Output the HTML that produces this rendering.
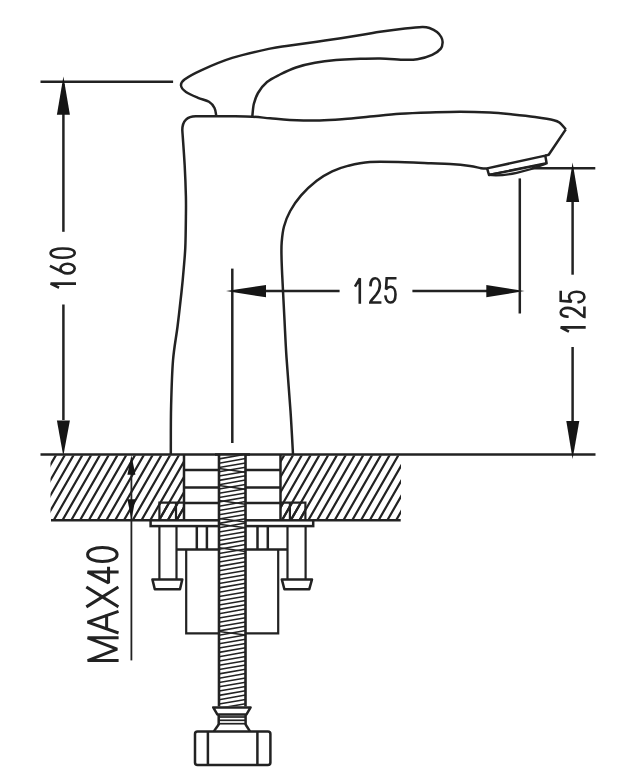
<!DOCTYPE html>
<html><head><meta charset="utf-8"><style>
html,body{margin:0;padding:0;background:#fff;width:643px;height:784px;overflow:hidden}
svg{display:block}
</style></head><body>
<svg width="643" height="784" viewBox="0 0 643 784"><path d="M216.2 115.5 C215.9 114.2 215.7 110.3 214.5 108.0 C213.3 105.7 211.8 103.5 209.0 101.8 C206.2 100.1 201.8 99.4 198.0 97.8 C194.2 96.2 188.8 94.0 186.0 92.0 C183.2 90.0 181.2 87.6 181.0 85.5 C180.8 83.4 181.2 82.0 184.5 79.5 C187.8 77.0 193.2 73.9 201.1 70.3 C209.0 66.7 220.7 61.5 232.2 57.9 C243.7 54.3 260.4 50.7 270.0 48.6 C279.6 46.5 280.8 46.9 290.0 45.5 C299.2 44.1 312.7 42.3 325.0 40.5 C337.3 38.7 354.8 36.1 364.0 34.6 C373.2 33.1 373.2 32.8 380.0 31.8 C386.8 30.8 397.9 29.3 405.0 28.5 C412.1 27.7 418.1 27.1 422.3 27.0 C426.5 26.9 427.6 27.4 430.0 28.2 C432.4 29.0 435.1 30.5 437.0 32.0 C438.9 33.5 440.3 35.3 441.2 37.0 C442.1 38.7 442.7 40.5 442.6 42.4 C442.5 44.3 442.5 46.5 440.8 48.6 C439.1 50.7 436.1 53.0 432.2 54.8 C428.3 56.6 421.9 58.4 417.3 59.2 C412.8 60.0 411.1 59.9 404.9 59.8 C398.7 59.7 388.3 58.6 380.0 58.5 C371.7 58.4 362.3 58.8 355.0 59.0 C347.7 59.2 342.7 59.4 336.0 60.0 C329.3 60.6 321.7 61.5 315.0 62.8 C308.3 64.0 301.8 65.5 296.0 67.5 C290.2 69.5 284.8 72.1 280.0 74.5 C275.2 76.9 270.7 78.9 267.0 82.0 C263.3 85.1 260.2 89.3 258.0 93.0 C255.8 96.7 254.8 100.1 253.8 104.0 C252.9 107.9 252.6 114.4 252.3 116.5" fill="none" stroke="#222" stroke-width="2.50" stroke-linejoin="round" stroke-linecap="butt"/>
<path d="M565.8 129.4 C564.8 128.3 562.0 124.5 560.0 123.0 C558.0 121.5 558.0 121.2 553.8 120.2 C549.6 119.2 541.8 118.0 535.0 117.0 C528.2 116.0 520.3 115.2 512.8 114.5 C505.3 113.8 498.8 113.1 490.0 112.6 C481.2 112.1 470.0 111.7 460.0 111.7 C450.0 111.7 440.0 112.1 430.0 112.4 C420.0 112.7 410.0 113.0 400.0 113.7 C390.0 114.4 379.2 115.7 370.0 116.6 C360.8 117.5 352.9 118.5 344.5 119.1 C336.1 119.7 328.7 120.3 319.6 120.4 C310.5 120.5 298.1 120.2 289.8 119.9 C281.5 119.6 276.2 118.8 270.0 118.3 C263.8 117.8 259.1 117.0 252.4 116.7 C245.7 116.4 239.4 116.4 230.0 116.3 C220.6 116.2 201.7 116.3 196.0 116.3 C187.5 116.2 182.3 120.5 182.3 130 C182.7 136.0 184.1 154.7 184.7 165.8 C185.3 176.9 185.7 187.9 185.9 196.4 C186.1 204.9 186.0 208.3 185.9 216.8 C185.8 225.3 185.7 238.5 185.3 247.4 C184.9 256.3 184.2 262.6 183.6 270.0 C183.0 277.4 182.5 282.7 181.5 292.0 C180.5 301.3 179.0 314.6 177.6 326.0 C176.2 337.4 174.1 347.1 173.0 360.5 C171.9 373.9 171.5 390.7 171.1 406.4 C170.7 422.1 170.9 446.5 170.8 454.5" fill="none" stroke="#222" stroke-width="2.50" stroke-linejoin="round" stroke-linecap="butt"/>
<path d="M565.8 129.4 L548.7 154.7 L545.3 155.6" fill="none" stroke="#222" stroke-width="2.50" stroke-linejoin="round" stroke-linecap="butt"/>
<path d="M487.5 168.6 C486.4 168.5 484.0 168.6 481.1 168.2 C478.2 167.8 475.2 166.6 470.0 165.9 C464.8 165.2 456.5 164.4 450.0 164.0 C443.5 163.6 438.5 163.5 431.0 163.2 C423.5 162.9 415.2 162.4 405.0 162.2 C394.8 162.0 379.5 161.4 370.0 162.0 C360.5 162.6 354.1 164.3 347.8 165.9 C341.5 167.5 337.4 168.8 332.2 171.3 C327.0 173.8 321.9 176.7 316.7 180.7 C311.5 184.7 305.5 190.3 301.1 195.4 C296.7 200.5 293.1 205.8 290.2 211.0 C287.3 216.2 285.4 221.3 284.0 226.5 C282.6 231.7 282.1 237.2 281.7 242.1 C281.3 247.0 281.4 250.5 281.5 256.0 C281.6 261.5 281.7 264.3 282.2 275.0 C282.7 285.7 283.8 306.3 284.5 320.0 C285.2 333.7 285.5 342.2 286.5 357.4 C287.5 372.6 289.4 394.8 290.5 411.0 C291.6 427.2 292.6 447.2 293.0 454.5" fill="none" stroke="#222" stroke-width="2.50" stroke-linejoin="round" stroke-linecap="butt"/>
<path d="M487.1 168.4 L545.3 155.6 L546.6 163.3 L489.0 175.0 L487.1 168.4" fill="none" stroke="#222" stroke-width="2.50" stroke-linejoin="round" stroke-linecap="butt"/>
<path d="M488.7 174.9 C505 177 528 171 545.9 163.7" fill="none" stroke="#222" stroke-width="2.30" stroke-linejoin="round" stroke-linecap="butt"/>
<line x1="488.7" y1="174.6" x2="545.9" y2="163.5" stroke="#222" stroke-width="1.50"/>
<line x1="40.5" y1="81.7" x2="173.1" y2="81.7" stroke="#222" stroke-width="2.50"/>
<line x1="63.4" y1="84.0" x2="63.4" y2="231.8" stroke="#222" stroke-width="2.50"/>
<line x1="63.4" y1="304.5" x2="63.4" y2="420.0" stroke="#222" stroke-width="2.50"/>
<path d="M63.4 76.5 L56.9 114.7 L69.9 114.7 Z" fill="#151515" stroke="none"/>
<path d="M63.3 456.0 L56.9 420.4 L69.9 420.4 Z" fill="#151515" stroke="none"/>
<line x1="40.5" y1="454.5" x2="595.5" y2="454.5" stroke="#222" stroke-width="2.50"/>
<line x1="232.3" y1="268.6" x2="232.3" y2="443.0" stroke="#222" stroke-width="2.50"/>
<line x1="262.0" y1="291.1" x2="339.6" y2="291.1" stroke="#222" stroke-width="2.50"/>
<line x1="412.4" y1="291.1" x2="490.0" y2="291.1" stroke="#222" stroke-width="2.50"/>
<path d="M226.0 291.1 L266.0 284.9 L266.0 297.3 Z" fill="#151515" stroke="none"/>
<path d="M524.5 291.1 L486.3 284.9 L486.3 297.3 Z" fill="#151515" stroke="none"/>
<line x1="519.8" y1="178.4" x2="519.8" y2="313.5" stroke="#222" stroke-width="2.50"/>
<line x1="531.6" y1="168.3" x2="595.3" y2="168.3" stroke="#222" stroke-width="2.50"/>
<line x1="572.6" y1="200.0" x2="572.6" y2="274.7" stroke="#222" stroke-width="2.50"/>
<line x1="572.6" y1="347.0" x2="572.6" y2="423.0" stroke="#222" stroke-width="2.50"/>
<path d="M572.6 162.5 L566.2 202.0 L579.2 202.0 Z" fill="#151515" stroke="none"/>
<path d="M572.6 459.0 L566.3 421.0 L579.3 421.0 Z" fill="#151515" stroke="none"/>
<clipPath id="hl"><path d="M50.5 455.5 H184 V520 H50.5 Z"/></clipPath>
<clipPath id="hr"><path d="M280.5 455.5 H401 V520 H280.5 Z"/></clipPath>
<path d="M-70.23 522.00 L-28.85 450.00 M-61.45 522.00 L-20.07 450.00 M-52.67 522.00 L-11.29 450.00 M-43.89 522.00 L-2.51 450.00 M-35.11 522.00 L6.27 450.00 M-26.33 522.00 L15.05 450.00 M-17.55 522.00 L23.83 450.00 M-8.77 522.00 L32.61 450.00 M0.01 522.00 L41.39 450.00 M8.79 522.00 L50.17 450.00 M17.57 522.00 L58.95 450.00 M26.35 522.00 L67.73 450.00 M35.13 522.00 L76.51 450.00 M43.91 522.00 L85.29 450.00 M52.69 522.00 L94.07 450.00 M61.47 522.00 L102.85 450.00 M70.25 522.00 L111.63 450.00 M79.03 522.00 L120.41 450.00 M87.81 522.00 L129.19 450.00 M96.59 522.00 L137.97 450.00 M105.37 522.00 L146.75 450.00 M114.15 522.00 L155.53 450.00 M122.93 522.00 L164.31 450.00 M131.71 522.00 L173.09 450.00 M140.49 522.00 L181.87 450.00 M149.27 522.00 L190.65 450.00 M158.05 522.00 L199.43 450.00 M166.83 522.00 L208.21 450.00 M175.61 522.00 L216.99 450.00 M184.39 522.00 L225.77 450.00 M193.17 522.00 L234.55 450.00 M201.95 522.00 L243.33 450.00 M210.73 522.00 L252.11 450.00 M219.51 522.00 L260.89 450.00 M228.29 522.00 L269.67 450.00 M237.07 522.00 L278.45 450.00 M245.85 522.00 L287.23 450.00 M254.63 522.00 L296.01 450.00 M263.41 522.00 L304.79 450.00 M272.19 522.00 L313.57 450.00 M280.97 522.00 L322.35 450.00 M289.75 522.00 L331.13 450.00 M298.53 522.00 L339.91 450.00 M307.31 522.00 L348.69 450.00 M316.09 522.00 L357.47 450.00 M324.87 522.00 L366.25 450.00 M333.65 522.00 L375.03 450.00 M342.43 522.00 L383.81 450.00 M351.21 522.00 L392.59 450.00 M359.99 522.00 L401.37 450.00 M368.77 522.00 L410.15 450.00 M377.55 522.00 L418.93 450.00 M386.33 522.00 L427.71 450.00 M395.11 522.00 L436.49 450.00 M403.89 522.00 L445.27 450.00 M412.67 522.00 L454.05 450.00 M421.45 522.00 L462.83 450.00 M430.23 522.00 L471.61 450.00 M439.01 522.00 L480.39 450.00 M447.79 522.00 L489.17 450.00" stroke="#222" stroke-width="2.2" clip-path="url(#hl)"/>
<path d="M-70.23 522.00 L-28.85 450.00 M-61.45 522.00 L-20.07 450.00 M-52.67 522.00 L-11.29 450.00 M-43.89 522.00 L-2.51 450.00 M-35.11 522.00 L6.27 450.00 M-26.33 522.00 L15.05 450.00 M-17.55 522.00 L23.83 450.00 M-8.77 522.00 L32.61 450.00 M0.01 522.00 L41.39 450.00 M8.79 522.00 L50.17 450.00 M17.57 522.00 L58.95 450.00 M26.35 522.00 L67.73 450.00 M35.13 522.00 L76.51 450.00 M43.91 522.00 L85.29 450.00 M52.69 522.00 L94.07 450.00 M61.47 522.00 L102.85 450.00 M70.25 522.00 L111.63 450.00 M79.03 522.00 L120.41 450.00 M87.81 522.00 L129.19 450.00 M96.59 522.00 L137.97 450.00 M105.37 522.00 L146.75 450.00 M114.15 522.00 L155.53 450.00 M122.93 522.00 L164.31 450.00 M131.71 522.00 L173.09 450.00 M140.49 522.00 L181.87 450.00 M149.27 522.00 L190.65 450.00 M158.05 522.00 L199.43 450.00 M166.83 522.00 L208.21 450.00 M175.61 522.00 L216.99 450.00 M184.39 522.00 L225.77 450.00 M193.17 522.00 L234.55 450.00 M201.95 522.00 L243.33 450.00 M210.73 522.00 L252.11 450.00 M219.51 522.00 L260.89 450.00 M228.29 522.00 L269.67 450.00 M237.07 522.00 L278.45 450.00 M245.85 522.00 L287.23 450.00 M254.63 522.00 L296.01 450.00 M263.41 522.00 L304.79 450.00 M272.19 522.00 L313.57 450.00 M280.97 522.00 L322.35 450.00 M289.75 522.00 L331.13 450.00 M298.53 522.00 L339.91 450.00 M307.31 522.00 L348.69 450.00 M316.09 522.00 L357.47 450.00 M324.87 522.00 L366.25 450.00 M333.65 522.00 L375.03 450.00 M342.43 522.00 L383.81 450.00 M351.21 522.00 L392.59 450.00 M359.99 522.00 L401.37 450.00 M368.77 522.00 L410.15 450.00 M377.55 522.00 L418.93 450.00 M386.33 522.00 L427.71 450.00 M395.11 522.00 L436.49 450.00 M403.89 522.00 L445.27 450.00 M412.67 522.00 L454.05 450.00 M421.45 522.00 L462.83 450.00 M430.23 522.00 L471.61 450.00 M439.01 522.00 L480.39 450.00 M447.79 522.00 L489.17 450.00" stroke="#222" stroke-width="2.2" clip-path="url(#hr)"/>
<line x1="51.0" y1="520.2" x2="150.6" y2="520.2" stroke="#222" stroke-width="2.50"/>
<line x1="313.0" y1="520.2" x2="400.7" y2="520.2" stroke="#222" stroke-width="2.50"/>
<line x1="184.0" y1="454.5" x2="184.0" y2="520.0" stroke="#222" stroke-width="2.50"/>
<line x1="280.5" y1="454.5" x2="280.5" y2="520.0" stroke="#222" stroke-width="2.50"/>
<line x1="131.4" y1="470.0" x2="131.4" y2="660.4" stroke="#222" stroke-width="1.80"/>
<path d="M131.4 455.3 L127.4 474.8 L135.4 474.8 Z" fill="#151515" stroke="none"/>
<path d="M131.4 519.8 L127.4 499.2 L135.4 499.2 Z" fill="#151515" stroke="none"/>
<line x1="184.0" y1="469.9" x2="219.0" y2="469.9" stroke="#222" stroke-width="2.50"/>
<line x1="245.5" y1="469.9" x2="280.5" y2="469.9" stroke="#222" stroke-width="2.50"/>
<line x1="184.0" y1="487.5" x2="219.0" y2="487.5" stroke="#222" stroke-width="2.50"/>
<line x1="245.5" y1="487.5" x2="280.5" y2="487.5" stroke="#222" stroke-width="2.50"/>
<line x1="184.0" y1="503.0" x2="219.0" y2="503.0" stroke="#222" stroke-width="2.50"/>
<line x1="245.5" y1="503.0" x2="280.5" y2="503.0" stroke="#222" stroke-width="2.50"/>
<path d="M159.4 520 V502.6 H184 M176 502.6 V520" fill="none" stroke="#222" stroke-width="2.2"/>
<path d="M305.4 520 V502.6 H280.5 M289.9 502.6 V520" fill="none" stroke="#222" stroke-width="2.2"/>
<clipPath id="wl"><path d="M159.4 503 H184 V520 H159.4 Z"/></clipPath>
<clipPath id="wr"><path d="M280.5 503 H305.4 V520 H280.5 Z"/></clipPath>
<path d="M-70.23 522.00 L-28.85 450.00 M-61.45 522.00 L-20.07 450.00 M-52.67 522.00 L-11.29 450.00 M-43.89 522.00 L-2.51 450.00 M-35.11 522.00 L6.27 450.00 M-26.33 522.00 L15.05 450.00 M-17.55 522.00 L23.83 450.00 M-8.77 522.00 L32.61 450.00 M0.01 522.00 L41.39 450.00 M8.79 522.00 L50.17 450.00 M17.57 522.00 L58.95 450.00 M26.35 522.00 L67.73 450.00 M35.13 522.00 L76.51 450.00 M43.91 522.00 L85.29 450.00 M52.69 522.00 L94.07 450.00 M61.47 522.00 L102.85 450.00 M70.25 522.00 L111.63 450.00 M79.03 522.00 L120.41 450.00 M87.81 522.00 L129.19 450.00 M96.59 522.00 L137.97 450.00 M105.37 522.00 L146.75 450.00 M114.15 522.00 L155.53 450.00 M122.93 522.00 L164.31 450.00 M131.71 522.00 L173.09 450.00 M140.49 522.00 L181.87 450.00 M149.27 522.00 L190.65 450.00 M158.05 522.00 L199.43 450.00 M166.83 522.00 L208.21 450.00 M175.61 522.00 L216.99 450.00 M184.39 522.00 L225.77 450.00 M193.17 522.00 L234.55 450.00 M201.95 522.00 L243.33 450.00 M210.73 522.00 L252.11 450.00 M219.51 522.00 L260.89 450.00 M228.29 522.00 L269.67 450.00 M237.07 522.00 L278.45 450.00 M245.85 522.00 L287.23 450.00 M254.63 522.00 L296.01 450.00 M263.41 522.00 L304.79 450.00 M272.19 522.00 L313.57 450.00 M280.97 522.00 L322.35 450.00 M289.75 522.00 L331.13 450.00 M298.53 522.00 L339.91 450.00 M307.31 522.00 L348.69 450.00 M316.09 522.00 L357.47 450.00 M324.87 522.00 L366.25 450.00 M333.65 522.00 L375.03 450.00 M342.43 522.00 L383.81 450.00 M351.21 522.00 L392.59 450.00 M359.99 522.00 L401.37 450.00 M368.77 522.00 L410.15 450.00 M377.55 522.00 L418.93 450.00 M386.33 522.00 L427.71 450.00 M395.11 522.00 L436.49 450.00 M403.89 522.00 L445.27 450.00 M412.67 522.00 L454.05 450.00 M421.45 522.00 L462.83 450.00 M430.23 522.00 L471.61 450.00 M439.01 522.00 L480.39 450.00 M447.79 522.00 L489.17 450.00" stroke="#222" stroke-width="2.2" clip-path="url(#wl)"/>
<path d="M-70.23 522.00 L-28.85 450.00 M-61.45 522.00 L-20.07 450.00 M-52.67 522.00 L-11.29 450.00 M-43.89 522.00 L-2.51 450.00 M-35.11 522.00 L6.27 450.00 M-26.33 522.00 L15.05 450.00 M-17.55 522.00 L23.83 450.00 M-8.77 522.00 L32.61 450.00 M0.01 522.00 L41.39 450.00 M8.79 522.00 L50.17 450.00 M17.57 522.00 L58.95 450.00 M26.35 522.00 L67.73 450.00 M35.13 522.00 L76.51 450.00 M43.91 522.00 L85.29 450.00 M52.69 522.00 L94.07 450.00 M61.47 522.00 L102.85 450.00 M70.25 522.00 L111.63 450.00 M79.03 522.00 L120.41 450.00 M87.81 522.00 L129.19 450.00 M96.59 522.00 L137.97 450.00 M105.37 522.00 L146.75 450.00 M114.15 522.00 L155.53 450.00 M122.93 522.00 L164.31 450.00 M131.71 522.00 L173.09 450.00 M140.49 522.00 L181.87 450.00 M149.27 522.00 L190.65 450.00 M158.05 522.00 L199.43 450.00 M166.83 522.00 L208.21 450.00 M175.61 522.00 L216.99 450.00 M184.39 522.00 L225.77 450.00 M193.17 522.00 L234.55 450.00 M201.95 522.00 L243.33 450.00 M210.73 522.00 L252.11 450.00 M219.51 522.00 L260.89 450.00 M228.29 522.00 L269.67 450.00 M237.07 522.00 L278.45 450.00 M245.85 522.00 L287.23 450.00 M254.63 522.00 L296.01 450.00 M263.41 522.00 L304.79 450.00 M272.19 522.00 L313.57 450.00 M280.97 522.00 L322.35 450.00 M289.75 522.00 L331.13 450.00 M298.53 522.00 L339.91 450.00 M307.31 522.00 L348.69 450.00 M316.09 522.00 L357.47 450.00 M324.87 522.00 L366.25 450.00 M333.65 522.00 L375.03 450.00 M342.43 522.00 L383.81 450.00 M351.21 522.00 L392.59 450.00 M359.99 522.00 L401.37 450.00 M368.77 522.00 L410.15 450.00 M377.55 522.00 L418.93 450.00 M386.33 522.00 L427.71 450.00 M395.11 522.00 L436.49 450.00 M403.89 522.00 L445.27 450.00 M412.67 522.00 L454.05 450.00 M421.45 522.00 L462.83 450.00 M430.23 522.00 L471.61 450.00 M439.01 522.00 L480.39 450.00 M447.79 522.00 L489.17 450.00" stroke="#222" stroke-width="2.2" clip-path="url(#wr)"/>
<rect x="150.6" y="520.3" width="162.6" height="5.8" rx="0.0" fill="#fff" stroke="#222" stroke-width="2.50"/>
<path d="M159.4 526 V579.4 M176.5 526 V579.4" stroke="#222" stroke-width="2.2"/>
<path d="M287.5 526 V579.4 M305.6 526 V579.4" stroke="#222" stroke-width="2.2"/>
<path d="M152.4 579.4 L182.3 579.4 L180.0 589.2 L154.8 589.2 Z" fill="none" stroke="#222" stroke-width="2.50" stroke-linejoin="round" stroke-linecap="butt"/>
<path d="M281.8 579.4 L312.0 579.4 L309.3 589.2 L284.4 589.2 Z" fill="none" stroke="#222" stroke-width="2.50" stroke-linejoin="round" stroke-linecap="butt"/>
<line x1="176.5" y1="549.6" x2="287.5" y2="549.6" stroke="#222" stroke-width="2.50"/>
<line x1="196.8" y1="526.0" x2="196.8" y2="549.6" stroke="#222" stroke-width="2.50"/>
<line x1="206.9" y1="526.0" x2="206.9" y2="549.6" stroke="#222" stroke-width="2.50"/>
<line x1="257.5" y1="526.0" x2="257.5" y2="549.6" stroke="#222" stroke-width="2.50"/>
<line x1="267.8" y1="526.0" x2="267.8" y2="549.6" stroke="#222" stroke-width="2.50"/>
<path d="M186.2 549.6 V633.3 H278.2 V549.6" fill="none" stroke="#222" stroke-width="2.2"/>
<rect x="219" y="454.5" width="26.5" height="252" fill="#fff"/>
<clipPath id="rod"><path d="M219 455 H245.5 V706.5 H219 Z"/></clipPath>
<path d="M219 454.6 L245.5 450.0 M219 458.9 L245.5 454.3 M219 463.2 L245.5 458.6 M219 467.5 L245.5 462.9 M219 471.8 L245.5 467.2 M219 476.1 L245.5 471.5 M219 480.4 L245.5 475.8 M219 484.7 L245.5 480.1 M219 489.0 L245.5 484.4 M219 493.3 L245.5 488.7 M219 497.6 L245.5 493.0 M219 501.9 L245.5 497.3 M219 506.2 L245.5 501.6 M219 510.5 L245.5 505.9 M219 514.8 L245.5 510.2 M219 519.1 L245.5 514.5 M219 523.4 L245.5 518.8 M219 527.7 L245.5 523.1 M219 532.0 L245.5 527.4 M219 536.3 L245.5 531.7 M219 540.6 L245.5 536.0 M219 544.9 L245.5 540.3 M219 549.2 L245.5 544.6 M219 553.5 L245.5 548.9 M219 557.8 L245.5 553.2 M219 562.1 L245.5 557.5 M219 566.4 L245.5 561.8 M219 570.7 L245.5 566.1 M219 575.0 L245.5 570.4 M219 579.3 L245.5 574.7 M219 583.6 L245.5 579.0 M219 587.9 L245.5 583.3 M219 592.2 L245.5 587.6 M219 596.5 L245.5 591.9 M219 600.8 L245.5 596.2 M219 605.1 L245.5 600.5 M219 609.4 L245.5 604.8 M219 613.7 L245.5 609.1 M219 618.0 L245.5 613.4 M219 622.3 L245.5 617.7 M219 626.6 L245.5 622.0 M219 630.9 L245.5 626.3 M219 635.2 L245.5 630.6 M219 639.5 L245.5 634.9 M219 643.8 L245.5 639.2 M219 648.1 L245.5 643.5 M219 652.4 L245.5 647.8 M219 656.7 L245.5 652.1 M219 661.0 L245.5 656.4 M219 665.3 L245.5 660.7 M219 669.6 L245.5 665.0 M219 673.9 L245.5 669.3 M219 678.2 L245.5 673.6 M219 682.5 L245.5 677.9 M219 686.8 L245.5 682.2 M219 691.1 L245.5 686.5 M219 695.4 L245.5 690.8 M219 699.7 L245.5 695.1 M219 704.0 L245.5 699.4 M219 708.3 L245.5 703.7 M219 712.6 L245.5 708.0 M219 716.9 L245.5 712.3 M219 721.2 L245.5 716.6 M219 725.5 L245.5 720.9 M219 729.8 L245.5 725.2 M219 734.1 L245.5 729.5 M219 738.4 L245.5 733.8 M219 742.7 L245.5 738.1 M219 747.0 L245.5 742.4 M219 751.3 L245.5 746.7" stroke="#222" stroke-width="1.55" clip-path="url(#rod)"/>
<path d="M219 454.5 V706.5 M245.5 454.5 V706.5" stroke="#222" stroke-width="2.6"/>
<line x1="215.0" y1="454.5" x2="250.0" y2="454.5" stroke="#222" stroke-width="2.50"/>
<path d="M219 468.6 L245.5 472.2" stroke="#222" stroke-width="1.5" clip-path="url(#rod)"/>
<path d="M219 485.6 L245.5 489.2" stroke="#222" stroke-width="1.5" clip-path="url(#rod)"/>
<path d="M219 500.6 L245.5 504.2" stroke="#222" stroke-width="1.5" clip-path="url(#rod)"/>
<path d="M219 518.5 L245.5 522.1" stroke="#222" stroke-width="1.5" clip-path="url(#rod)"/>
<path d="M219 524.2 L245.5 527.8" stroke="#222" stroke-width="1.5" clip-path="url(#rod)"/>
<path d="M219 547.8 L245.5 551.4" stroke="#222" stroke-width="1.5" clip-path="url(#rod)"/>
<path d="M219 631.5 L245.5 635.1" stroke="#222" stroke-width="1.5" clip-path="url(#rod)"/>
<path d="M213.2 707.4 L250.6 707.4 L246.5 714.4 L217.3 714.4 Z" fill="none" stroke="#222" stroke-width="2.50" stroke-linejoin="round" stroke-linecap="butt"/>
<path d="M218.7 714.4 V725 M245.6 714.4 V725" fill="none" stroke="#222" stroke-width="2.50" stroke-linejoin="round" stroke-linecap="butt"/>
<line x1="218.7" y1="717.0" x2="245.6" y2="717.0" stroke="#222" stroke-width="1.70"/>
<line x1="218.7" y1="720.3" x2="245.6" y2="720.3" stroke="#222" stroke-width="1.70"/>
<line x1="218.7" y1="723.7" x2="245.6" y2="723.7" stroke="#222" stroke-width="1.70"/>
<path d="M218.7 724.5 L213.8 731.4" fill="none" stroke="#222" stroke-width="2.50" stroke-linejoin="round" stroke-linecap="butt"/>
<path d="M245.6 724.5 L250.0 731.4" fill="none" stroke="#222" stroke-width="2.50" stroke-linejoin="round" stroke-linecap="butt"/>
<rect x="195.0" y="731.4" width="75.4" height="33.6" rx="2.5" fill="#fff" stroke="#222" stroke-width="2.50"/>
<line x1="207.9" y1="731.4" x2="207.9" y2="765.0" stroke="#222" stroke-width="2.50"/>
<line x1="257.4" y1="731.4" x2="257.4" y2="765.0" stroke="#222" stroke-width="2.50"/>
<g transform="translate(49.3 288.5) rotate(-90)"><path d="M 1.30 8.53 L 4.90 1.30 L 4.90 25.40 M 22.01 1.78 L 16.64 12.87 M 19.90 11.18 C 22.78 11.18 24.70 14.56 24.70 18.29 C 24.70 22.03 22.78 25.40 19.90 25.40 C 17.02 25.40 15.10 22.03 15.10 18.29 C 15.10 14.56 17.02 11.18 19.90 11.18 Z M 35.40 1.30 C 32.36 1.30 30.80 6.60 30.80 13.35 C 30.80 20.10 32.36 25.40 35.40 25.40 C 38.44 25.40 40.00 20.10 40.00 13.35 C 40.00 6.60 38.44 1.30 35.40 1.30 Z" fill="none" stroke="#222" stroke-width="2.60" stroke-linejoin="miter" stroke-miterlimit="1.6" stroke-linecap="square"/></g>
<g transform="translate(559.4 332.3) rotate(-90)"><path d="M 1.30 8.41 L 4.90 1.30 L 4.90 25.00 M 15.58 7.94 C 15.77 3.43 17.61 1.30 20.00 1.30 C 22.76 1.30 24.42 4.62 24.42 8.41 C 24.42 12.44 23.13 14.57 20.92 17.42 L 17.42 21.68 C 16.14 23.34 15.40 24.05 15.40 25.00 L 24.60 25.00 M 40.29 1.30 L 31.45 1.30 L 30.72 12.20 C 32.28 10.31 33.84 9.60 35.61 9.60 C 38.73 9.60 40.60 13.15 40.60 17.18 C 40.60 22.16 38.52 25.00 35.40 25.00 C 32.49 25.00 30.62 22.16 30.20 19.31" fill="none" stroke="#222" stroke-width="2.60" stroke-linejoin="miter" stroke-miterlimit="1.6" stroke-linecap="square"/></g>
<g transform="translate(353.3 277)"><path d="M 2.30 8.56 L 6.50 1.30 L 6.50 25.50 M 17.20 8.08 C 17.39 3.48 19.35 1.30 21.90 1.30 C 24.84 1.30 26.60 4.69 26.60 8.56 C 26.60 12.67 25.23 14.85 22.88 17.76 L 19.16 22.11 C 17.78 23.81 17.00 24.53 17.00 25.50 L 26.80 25.50 M 41.90 1.30 L 33.40 1.30 L 32.70 12.43 C 34.20 10.50 35.70 9.77 37.40 9.77 C 40.40 9.77 42.20 13.40 42.20 17.51 C 42.20 22.60 40.20 25.50 37.20 25.50 C 34.40 25.50 32.60 22.60 32.20 19.69" fill="none" stroke="#222" stroke-width="2.60" stroke-linejoin="miter" stroke-miterlimit="1.6" stroke-linecap="square"/></g>
<g transform="translate(86.1 662.1) rotate(-90)"><path d="M 1.50 31.00 L 1.50 1.50 L 12.90 31.00 L 24.30 1.50 L 24.30 31.00 M 29.60 31.00 L 39.90 1.50 L 50.20 31.00 M 33.51 20.53 L 46.29 20.53 M 56.00 1.50 L 74.30 31.00 M 74.30 1.50 L 56.00 31.00 M 90.00 31.00 L 90.00 1.50 L 79.20 22.45 L 93.80 22.45 M 107.55 1.50 C 102.96 1.50 100.60 7.99 100.60 16.25 C 100.60 24.51 102.96 31.00 107.55 31.00 C 112.14 31.00 114.50 24.51 114.50 16.25 C 114.50 7.99 112.14 1.50 107.55 1.50 Z" fill="none" stroke="#222" stroke-width="3.00" stroke-linejoin="miter" stroke-miterlimit="1.6" stroke-linecap="square"/></g></svg>
</body></html>
